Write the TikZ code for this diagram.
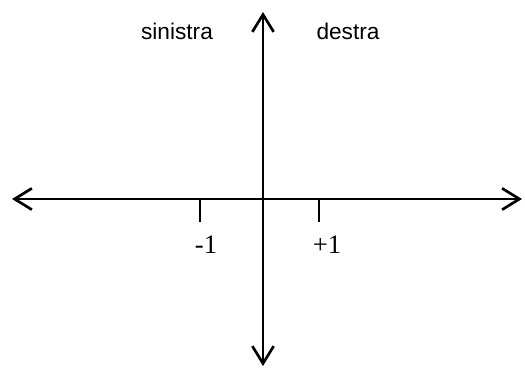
\documentclass[tikz,border=0pt]{standalone}
\usepackage{fontspec}
\setmainfont{Liberation Serif}
\setsansfont{Liberation Sans}
\usetikzlibrary{arrows.meta}
\begin{document}
\begin{tikzpicture}[x=0.75pt,y=-0.75pt,
    axis/.style={line width=2pt,
      {Straight Barb[length=13pt,width=16pt]}-{Straight Barb[length=13pt,width=16pt]}},
    tickline/.style={line width=1.5pt},
    side/.style={font=\fontsize{17}{20}\selectfont\sffamily},
    num/.style={font=\fontsize{20}{24}\selectfont}]
  \useasboundingbox (0,0) rectangle (525,369);
  \coordinate (west) at (12,199);
  \coordinate (east) at (522,199);
  \coordinate (north) at (263,12);
  \coordinate (south) at (263,366);
  \draw[axis] (west) -- (east);
  \draw[axis] (south) -- (north);
  % tick marks under the axis
  \coordinate (m1top) at (200,199);
  \coordinate (m1bot) at (200,222);
  \coordinate (p1top) at (319,199);
  \coordinate (p1bot) at (319,222);
  \draw[tickline] (m1top) -- (m1bot);
  \draw[tickline] (p1top) -- (p1bot);
  \node[num] (minusone) at (206,245) {-1};
  \node[num] (plusone) at (327,245) {+1};
  \node[side] (sinistra) at (177,31) {sinistra};
  \node[side] (destra) at (348,31) {destra};
\end{tikzpicture}
\end{document}
